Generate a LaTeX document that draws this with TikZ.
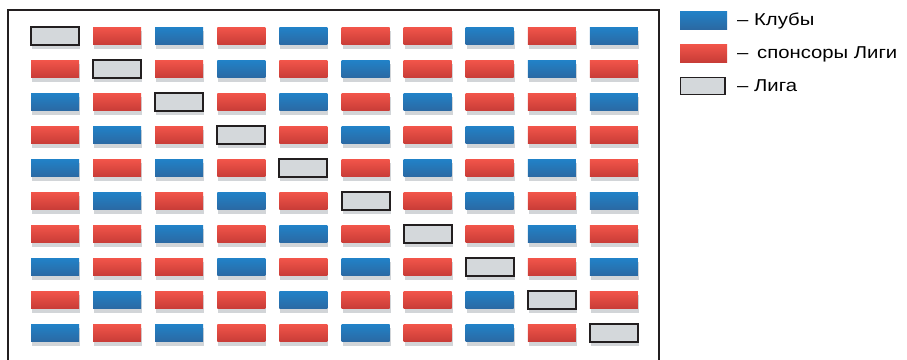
\documentclass[tikz,border=0pt]{standalone}
\usepackage{fontspec}
\setmainfont{Liberation Sans}
\newfontfamily\legendfont{Liberation Sans}[FakeStretch=1.18]
\definecolor{frameC}{HTML}{231F20}
\definecolor{blueTop}{HTML}{2182C8}
\definecolor{blueBot}{HTML}{2B69A3}
\definecolor{redTop}{HTML}{F2554A}
\definecolor{redBot}{HTML}{C83C37}
\definecolor{grayFill}{HTML}{D4D8DB}
\definecolor{shadowC}{HTML}{D2D5D8}
\begin{document}
\begin{tikzpicture}[x=1pt,y=-1pt,
  cellB/.style={top color=blueTop,bottom color=blueBot,draw=none},
  cellR/.style={top color=redTop,bottom color=redBot,draw=none},
  cellG/.style={fill=grayFill,draw=frameC,line width=2pt},
  legG/.style={fill=grayFill,draw=frameC,line width=1.3pt},
  legtext/.style={anchor=base west,inner sep=0pt,font=\legendfont\fontsize{17.2}{20}\selectfont,text=black}]
\useasboundingbox (0,0) rectangle (907,359);
% frame
\draw[frameC,line width=2.2pt] (8,365) -- (8,10) -- (659,10) -- (659,365);
% cells
\foreach \c [count=\i from 0] in {
 G,R,B,R,B,R,R,B,R,B,
 R,G,R,B,R,B,R,R,B,R,
 B,R,G,R,B,R,B,R,R,B,
 R,B,R,G,R,B,R,B,R,R,
 B,R,B,R,G,R,B,R,B,R,
 R,B,R,B,R,G,R,B,R,B,
 R,R,B,R,B,R,G,R,B,R,
 B,R,R,B,R,B,R,G,R,B,
 R,B,R,R,B,R,R,B,G,R,
 B,R,B,R,R,B,R,B,R,G}{
  \pgfmathsetmacro\xx{31+62.1*mod(\i,10)}
  \pgfmathsetmacro\yy{27+33*int(\i/10)}
  \fill[shadowC] (\xx+1,\yy+4) rectangle ++(48,17.7);
  \path[cell\c] (\xx,\yy) rectangle ++(48,17.7);
}
% legend
\path[cellB] (680,11) rectangle (727,29);
\path[cellR] (680,44) rectangle (727,62);
\path[legG] (680.7,77.7) rectangle (725,94.3);
\node[legtext] (l1) at (737,25) {– Клубы};
\node[legtext] (l2) at (737,58) {–\hspace{3pt} спонсоры Лиги};
\node[legtext] (l3) at (737,91) {– Лига};
\end{tikzpicture}
\end{document}
